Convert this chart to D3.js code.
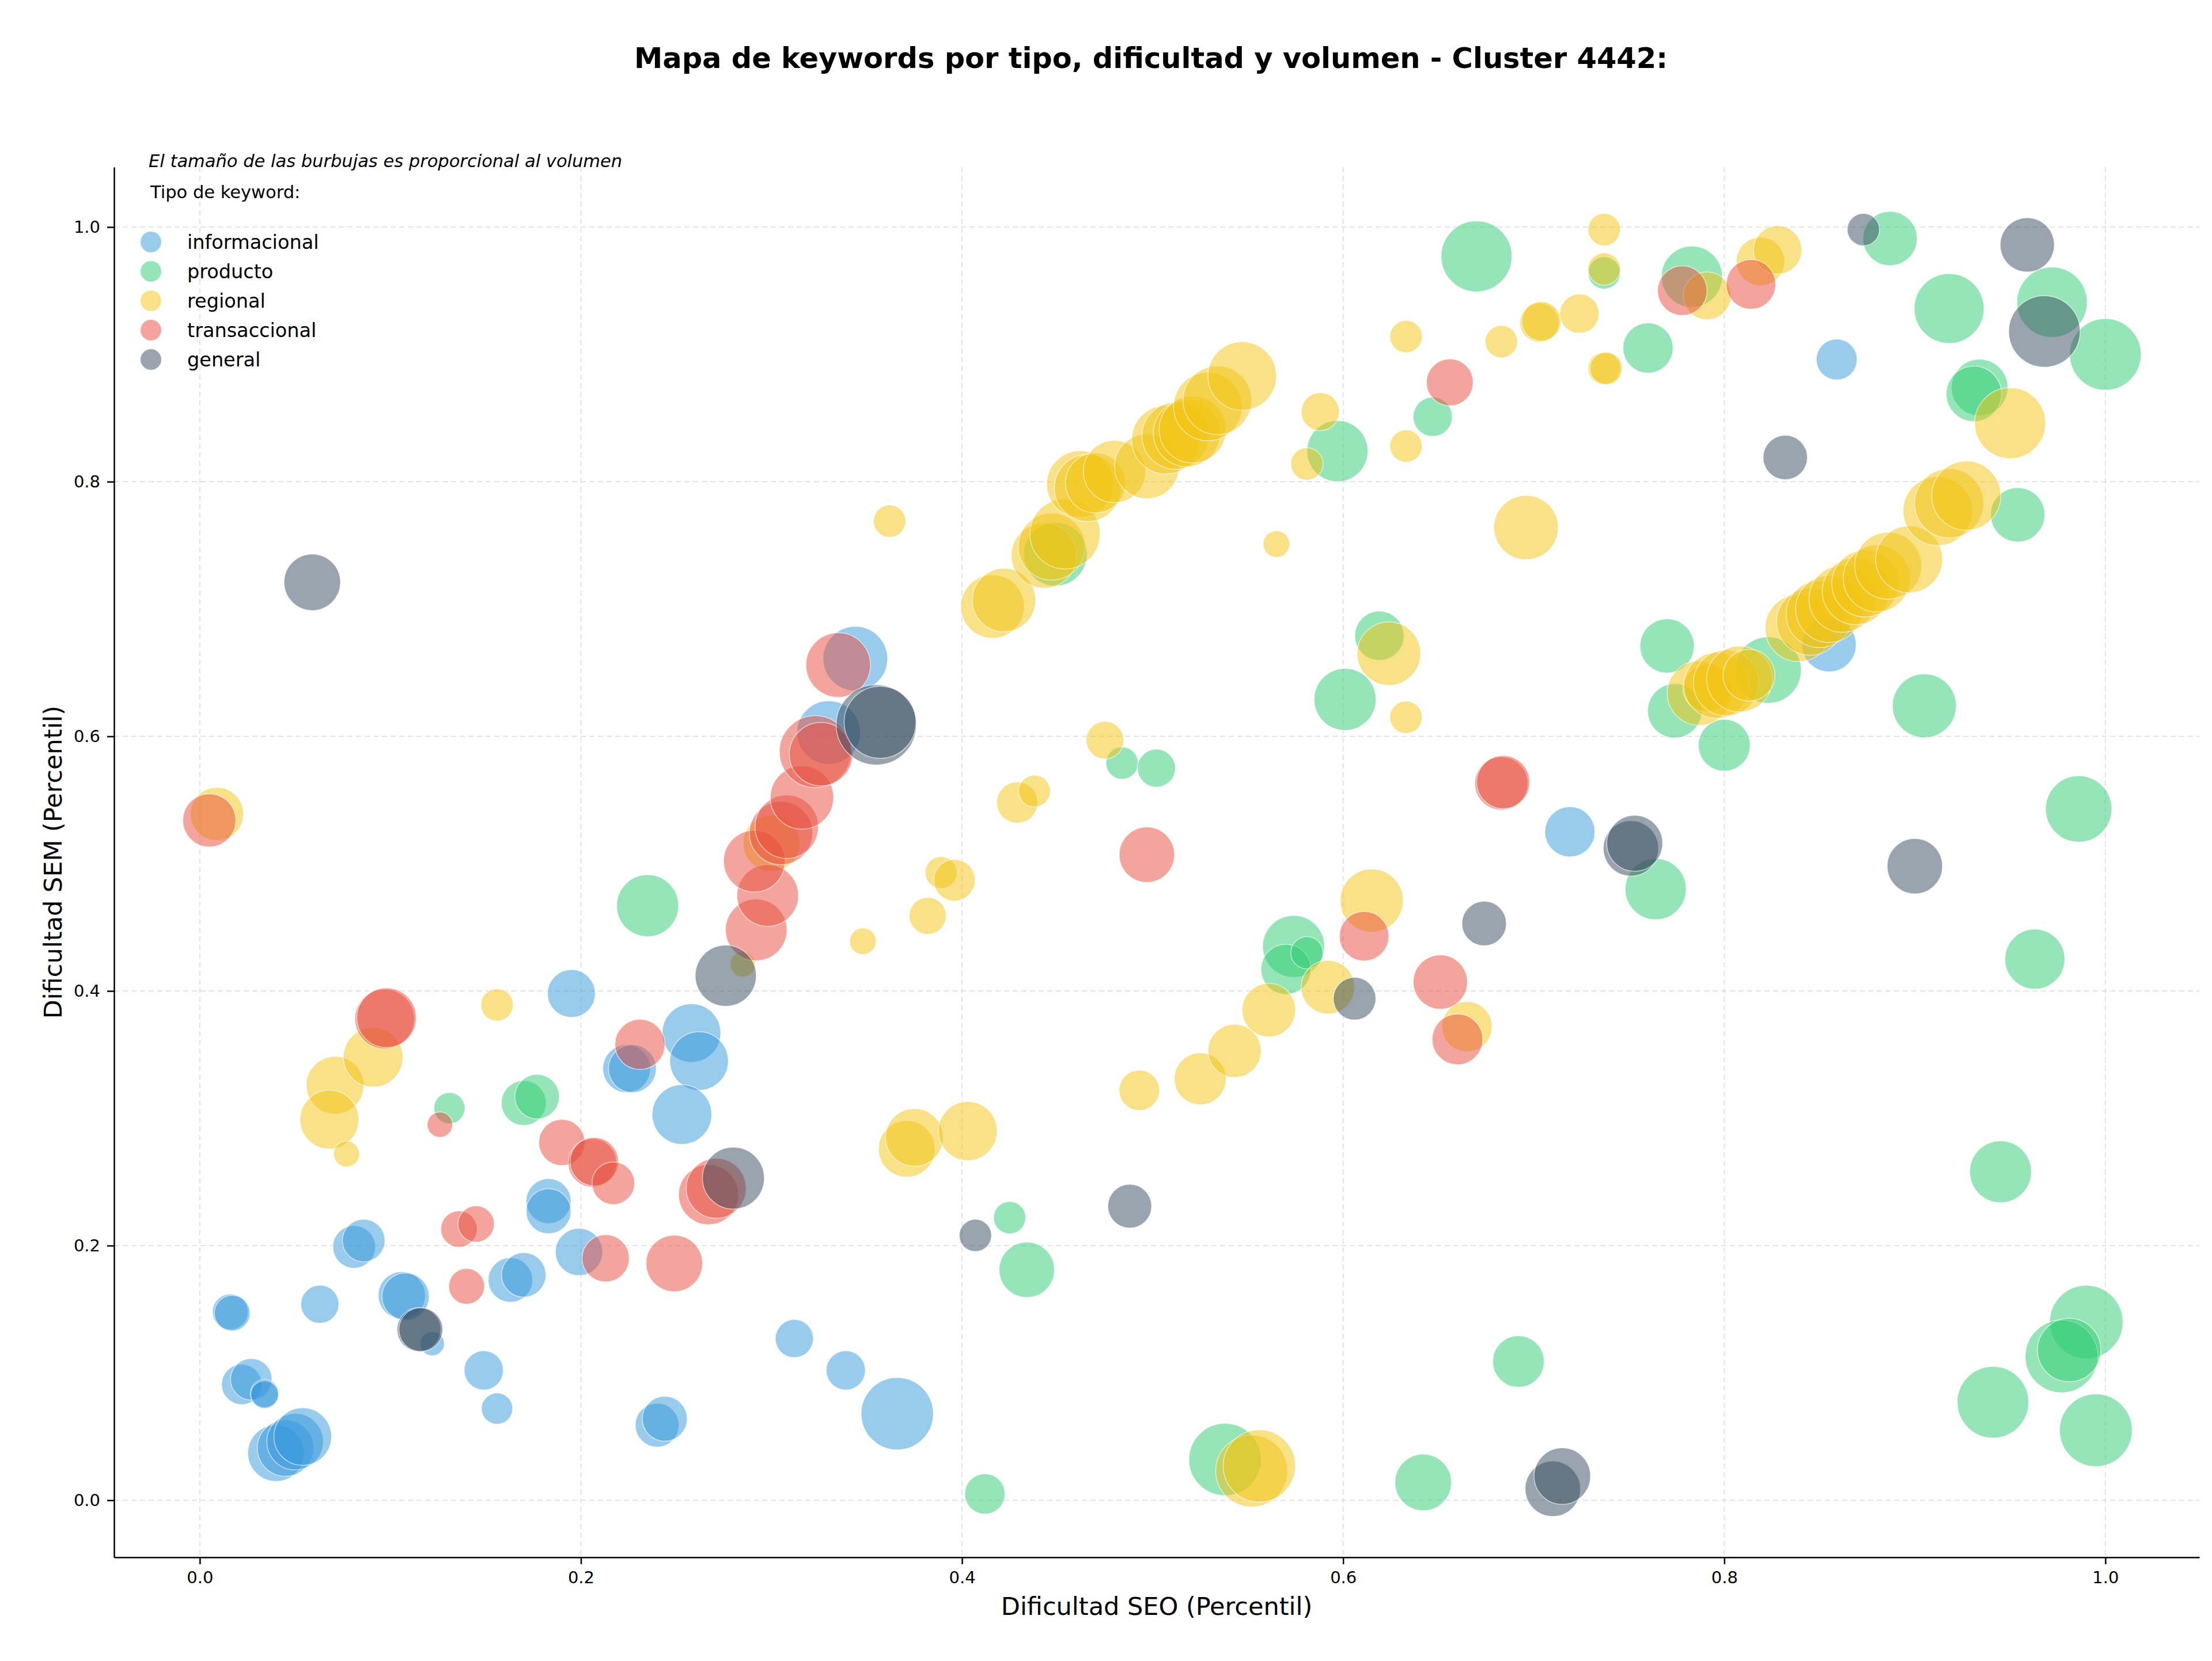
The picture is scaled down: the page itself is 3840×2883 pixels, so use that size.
<!DOCTYPE html>
<html>
<head>
<meta charset="utf-8">
<script src="https://cdn.jsdelivr.net/npm/d3@7"></script>
<style>
  body { margin: 0; background: #fff; }
  text { font-family: "DejaVu Sans", sans-serif; }
</style>
</head>
<body>
<svg id="chart" width="3840" height="2883"></svg>
<script>
// tipos de keyword (orden de la leyenda y de dibujo)
const tipos = ["informacional", "producto", "regional", "transaccional", "general"];

// cada punto: [dificultad SEO, dificultad SEM, volumen]
const informacional = [
  [0.016, 0.148, 196], [0.017, 0.147, 196], [0.063, 0.154, 222], [0.106, 0.161, 343],
  [0.108, 0.160, 343], [0.122, 0.123, 90], [0.149, 0.102, 236], [0.156, 0.072, 149],
  [0.022, 0.091, 250], [0.027, 0.095, 264], [0.034, 0.084, 122], [0.034, 0.083, 118],
  [0.040, 0.037, 490], [0.045, 0.041, 490], [0.050, 0.046, 490], [0.054, 0.050, 510],
  [0.081, 0.199, 279], [0.086, 0.204, 279], [0.163, 0.173, 304], [0.170, 0.177, 304],
  [0.183, 0.235, 310], [0.183, 0.227, 310], [0.199, 0.195, 343], [0.195, 0.398, 351],
  [0.224, 0.339, 351], [0.227, 0.339, 351], [0.258, 0.367, 527], [0.262, 0.345, 527],
  [0.253, 0.303, 545], [0.240, 0.059, 295], [0.244, 0.064, 310], [0.312, 0.127, 222],
  [0.339, 0.102, 236], [0.366, 0.068, 802], [0.330, 0.603, 617], [0.344, 0.661, 640],
  [0.719, 0.525, 386], [0.855, 0.672, 451], [0.859, 0.896, 256]
];

const producto = [
  [0.131, 0.308, 149], [0.170, 0.312, 310], [0.177, 0.317, 304], [0.235, 0.467, 589],
  [0.412, 0.005, 250], [0.425, 0.222, 160], [0.434, 0.181, 470], [0.449, 0.743, 617],
  [0.484, 0.579, 160], [0.502, 0.575, 222], [0.538, 0.032, 802], [0.574, 0.435, 589],
  [0.570, 0.417, 386], [0.581, 0.430, 160], [0.597, 0.824, 573], [0.601, 0.629, 589],
  [0.619, 0.679, 372], [0.642, 0.014, 490], [0.647, 0.851, 236], [0.670, 0.977, 772],
  [0.692, 0.109, 408], [0.737, 0.964, 160], [0.760, 0.905, 386], [0.764, 0.480, 573],
  [0.770, 0.671, 451], [0.774, 0.620, 451], [0.783, 0.961, 573], [0.800, 0.593, 413],
  [0.823, 0.652, 675], [0.887, 0.991, 451], [0.905, 0.624, 626], [0.918, 0.936, 749],
  [0.934, 0.874, 490], [0.931, 0.869, 470], [0.954, 0.774, 451], [0.972, 0.941, 759],
  [1.000, 0.900, 785], [0.963, 0.425, 552], [0.986, 0.543, 675], [0.945, 0.258, 586],
  [0.990, 0.140, 826], [0.977, 0.113, 810], [0.981, 0.118, 617], [0.941, 0.077, 785],
  [0.995, 0.055, 810]
];

const regional = [
  [0.009, 0.539, 432], [0.071, 0.326, 510], [0.068, 0.299, 531], [0.077, 0.272, 103],
  [0.091, 0.348, 545], [0.156, 0.389, 160], [0.285, 0.421, 99], [0.300, 0.516, 490],
  [0.348, 0.439, 108], [0.362, 0.769, 160], [0.371, 0.276, 490], [0.375, 0.285, 510],
  [0.382, 0.459, 209], [0.389, 0.493, 155], [0.396, 0.487, 264], [0.403, 0.290, 531],
  [0.416, 0.702, 617], [0.422, 0.707, 617], [0.429, 0.548, 260], [0.438, 0.557, 155],
  [0.443, 0.742, 654], [0.447, 0.749, 687], [0.454, 0.759, 759], [0.462, 0.798, 687],
  [0.466, 0.795, 687], [0.470, 0.799, 552], [0.480, 0.808, 595], [0.475, 0.597, 216],
  [0.493, 0.322, 250], [0.497, 0.812, 640], [0.507, 0.833, 722], [0.512, 0.836, 687],
  [0.518, 0.838, 687], [0.521, 0.841, 687], [0.529, 0.859, 722], [0.534, 0.864, 722],
  [0.547, 0.883, 722], [0.525, 0.331, 413], [0.543, 0.353, 432], [0.552, 0.023, 795],
  [0.556, 0.027, 802], [0.561, 0.385, 439], [0.565, 0.751, 108], [0.581, 0.814, 160],
  [0.588, 0.855, 222], [0.592, 0.403, 439], [0.615, 0.471, 608], [0.624, 0.665, 617],
  [0.633, 0.615, 160], [0.633, 0.828, 160], [0.633, 0.914, 160], [0.665, 0.372, 386],
  [0.683, 0.910, 160], [0.696, 0.764, 633], [0.703, 0.925, 236], [0.704, 0.926, 236],
  [0.724, 0.932, 236], [0.737, 0.998, 160], [0.737, 0.967, 160], [0.737, 0.889, 160],
  [0.738, 0.889, 160], [0.791, 0.946, 351], [0.819, 0.973, 360], [0.828, 0.982, 360],
  [0.787, 0.634, 640], [0.791, 0.638, 360], [0.796, 0.640, 663], [0.801, 0.642, 663],
  [0.808, 0.645, 663], [0.813, 0.648, 413], [0.839, 0.685, 687], [0.845, 0.690, 687],
  [0.850, 0.696, 687], [0.855, 0.700, 687], [0.862, 0.708, 687], [0.869, 0.714, 687],
  [0.874, 0.720, 687], [0.880, 0.724, 687], [0.886, 0.734, 687], [0.897, 0.739, 687],
  [0.912, 0.777, 735], [0.918, 0.783, 735], [0.927, 0.789, 735], [0.950, 0.846, 772]
];

const transaccional = [
  [0.005, 0.534, 432], [0.097, 0.378, 545], [0.098, 0.379, 545], [0.126, 0.295, 99],
  [0.136, 0.213, 203], [0.145, 0.217, 203], [0.140, 0.168, 196], [0.190, 0.281, 327],
  [0.206, 0.265, 360], [0.207, 0.266, 360], [0.217, 0.249, 279], [0.213, 0.190, 343],
  [0.231, 0.358, 386], [0.249, 0.186, 490], [0.267, 0.240, 552], [0.271, 0.245, 552],
  [0.292, 0.448, 583], [0.298, 0.475, 583], [0.291, 0.502, 583], [0.305, 0.524, 617],
  [0.308, 0.529, 617], [0.316, 0.552, 617], [0.323, 0.588, 795], [0.326, 0.586, 617],
  [0.335, 0.656, 640], [0.497, 0.507, 470], [0.611, 0.443, 377], [0.651, 0.407, 451],
  [0.660, 0.362, 395], [0.656, 0.878, 336], [0.683, 0.563, 432], [0.684, 0.564, 432],
  [0.778, 0.950, 377], [0.814, 0.955, 377]
];

const general = [
  [0.059, 0.721, 490], [0.115, 0.134, 295], [0.116, 0.134, 295], [0.276, 0.412, 573],
  [0.280, 0.253, 589], [0.355, 0.609, 989], [0.357, 0.611, 795], [0.407, 0.208, 160],
  [0.488, 0.231, 295], [0.606, 0.394, 279], [0.674, 0.453, 304], [0.710, 0.009, 470],
  [0.715, 0.019, 490], [0.751, 0.512, 470], [0.753, 0.516, 480], [0.832, 0.819, 302],
  [0.873, 0.998, 160], [0.900, 0.498, 470], [0.959, 0.986, 451], [0.968, 0.918, 785]
];

const xTicks = [0, 0.2, 0.4, 0.6, 0.8, 1.0];
const yTicks = [0, 0.2, 0.4, 0.6, 0.8, 1.0];

const series = { informacional, producto, regional, transaccional, general };
const colores = {
  informacional: "#3498db",
  producto: "#2ecc71",
  regional: "#f1c40f",
  transaccional: "#e74c3c",
  general: "#34495e"
};

const svg = d3.select("#chart");
const margin = { top: 290, right: 22, bottom: 180, left: 198 };
const W = 3840, H = 2883;

const x = d3.scaleLinear().domain([-0.045, 1.0493]).range([margin.left, W - margin.right]);
const y = d3.scaleLinear().domain([-0.0448, 1.0471]).range([H - margin.bottom, margin.top]);
const r = d3.scaleSqrt().domain([0, 1000]).range([0, 70]);

// grid
const grid = svg.append("g")
  .attr("stroke", "#d9d9d9")
  .attr("stroke-width", 2)
  .attr("stroke-dasharray", "9,6")
  .attr("stroke-opacity", 0.7);

grid.selectAll("line.v")
  .data(xTicks)
  .join("line")
  .attr("class", "v")
  .attr("x1", d => x(d)).attr("x2", d => x(d))
  .attr("y1", y.range()[1]).attr("y2", y.range()[0]);

grid.selectAll("line.h")
  .data(yTicks)
  .join("line")
  .attr("class", "h")
  .attr("y1", d => y(d)).attr("y2", d => y(d))
  .attr("x1", x.range()[0]).attr("x2", x.range()[1]);

// bubbles
tipos.forEach(t => {
  svg.append("g")
    .selectAll("circle")
    .data(series[t])
    .join("circle")
    .attr("cx", d => x(d[0]))
    .attr("cy", d => y(d[1]))
    .attr("r", d => r(d[2]))
    .attr("fill", colores[t])
    .attr("fill-opacity", 0.5)
    .attr("stroke", "#fff")
    .attr("stroke-opacity", 0.6)
    .attr("stroke-width", 1.5);
});

// axes
const fmt = d3.format(".1f");

const xAxis = svg.append("g")
  .attr("transform", `translate(0,${y.range()[0]})`)
  .call(d3.axisBottom(x).tickValues(xTicks).tickFormat(fmt).tickSize(12).tickPadding(12).tickSizeOuter(0));

const yAxis = svg.append("g")
  .attr("transform", `translate(${x.range()[0]},0)`)
  .call(d3.axisLeft(y).tickValues(yTicks).tickFormat(fmt).tickSize(12).tickPadding(12).tickSizeOuter(0));

[xAxis, yAxis].forEach(a => {
  a.select(".domain").attr("stroke", "#000").attr("stroke-width", 2.5);
  a.selectAll(".tick line").attr("stroke", "#000").attr("stroke-width", 2.5);
  a.selectAll(".tick text")
    .attr("fill", "#000")
    .style("font-family", "DejaVu Sans, sans-serif")
    .style("font-size", "29px");
});

// axis labels
svg.append("text")
  .attr("x", (x.range()[0] + x.range()[1]) / 2)
  .attr("y", 2803)
  .attr("text-anchor", "middle")
  .style("font-size", "43px")
  .text("Dificultad SEO (Percentil)");

svg.append("text")
  .attr("transform", `translate(107,${(y.range()[0] + y.range()[1]) / 2}) rotate(-90)`)
  .attr("text-anchor", "middle")
  .style("font-size", "43px")
  .text("Dificultad SEM (Percentil)");

// title
svg.append("text")
  .attr("x", 1998)
  .attr("y", 118)
  .attr("text-anchor", "middle")
  .style("font-size", "49.5px")
  .style("font-weight", "bold")
  .text("Mapa de keywords por tipo, dificultad y volumen - Cluster 4442:");

// legend
svg.append("text")
  .attr("x", 258)
  .attr("y", 290)
  .style("font-size", "30.5px")
  .style("font-style", "italic")
  .text("El tamaño de las burbujas es proporcional al volumen");

svg.append("text")
  .attr("x", 261)
  .attr("y", 344)
  .style("font-size", "30.5px")
  .text("Tipo de keyword:");

const legend = svg.append("g");
const items = legend.selectAll("g")
  .data(tipos)
  .join("g")
  .attr("transform", (d, i) => `translate(262,${420 + i * 51})`);

items.append("circle")
  .attr("r", 18.5)
  .attr("fill", d => colores[d])
  .attr("fill-opacity", 0.5)
  .attr("stroke", "#fff")
  .attr("stroke-opacity", 0.6)
  .attr("stroke-width", 1.5);

items.append("text")
  .attr("x", 63)
  .attr("dy", "0.35em")
  .style("font-size", "33.5px")
  .text(d => d);
</script>
</body>
</html>
